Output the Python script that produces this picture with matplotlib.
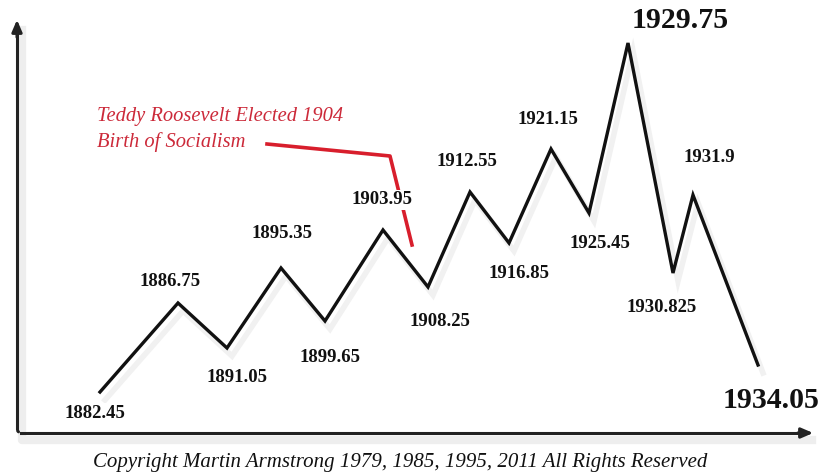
#!/usr/bin/env python3

import matplotlib.pyplot as plt
from matplotlib.patches import FancyArrowPatch

# Turning points of the schematic wave (years) and their place on the sketch
years = ["1882.45", "1886.75", "1891.05", "1895.35", "1899.65", "1903.95",
         "1908.25", "1912.55", "1916.85", "1921.15", "1925.45", "1929.75",
         "1930.825", "1931.9", "1934.05"]
x_pos = [100, 178, 227, 281, 325, 383, 428, 470, 509, 551, 589, 628, 673, 693, 758]
level = [392, 303, 348, 268, 321, 230, 287, 192, 243, 149, 213, 43, 273, 195, 365]

note_lines = ["Teddy Roosevelt Elected 1904", "Birth of Socialism"]
copyright_txt = "Copyright Martin Armstrong 1979, 1985, 1995, 2011 All Rights Reserved"

# label placement (pixels, relative to each turning point)
label_dx = [-5, -8, 10, 1, 5, -1, 12, -3, 10, -3, 11, 52, -11, 16, 13]
label_dy = [21, -22, 30, -34, 36, -30, 34, -30, 30, -29, 30, -22, 34, -38, 35]
big = {"1929.75", "1934.05"}

SERIF = ["Liberation Serif", "DejaVu Serif"]


def main():
    fig = plt.figure(figsize=(8.23, 4.76), dpi=100)
    ax = fig.add_axes([0, 0, 1, 1])
    ax.set_xlim(0, 823)
    ax.set_ylim(476, 0)
    ax.axis("off")

    # faint drop shadows
    ax.plot([x + 5 for x in x_pos], [y + 8 for y in level], color="#f1f1f1",
            lw=4, solid_joinstyle="miter", zorder=1)
    ax.plot([22, 22, 812], [30, 440, 440], color="#eeeeee", lw=6, zorder=1)

    # axes drawn as arrows
    ax.plot([17, 17], [428, 30], color="#222222", lw=2.2, zorder=2)
    ax.plot([21, 805], [433, 433], color="#222222", lw=2.2, zorder=2)
    corner = FancyArrowPatch((17, 428), (21, 433), connectionstyle="arc3,rad=0.4",
                             arrowstyle="-", color="#222222", lw=2.2, zorder=2)
    ax.add_patch(corner)
    ax.annotate("", xy=(17, 17), xytext=(17, 40),
                arrowprops=dict(arrowstyle="-|>,head_length=0.7,head_width=0.3",
                                color="#222222", lw=2.2), zorder=3)
    ax.annotate("", xy=(816, 433), xytext=(795, 433),
                arrowprops=dict(arrowstyle="-|>,head_length=0.7,head_width=0.3",
                                color="#222222", lw=2.2), zorder=3)

    # the wave
    ax.plot(x_pos, level, color="#111111", lw=2.4, solid_joinstyle="miter", zorder=4)

    # red pointer from the note to the 1903.95 top
    ax.plot([267, 390, 412], [144, 156, 245], color="#d81e2c", lw=2.6, zorder=3)

    for i, yr in enumerate(years):
        size = 21.5 if yr in big else 13.5
        ax.text(x_pos[i] + label_dx[i], level[i] + label_dy[i], yr,
                ha="center", va="center", fontsize=size, fontweight="bold",
                family=SERIF, color="#111111", zorder=5,
                bbox=dict(boxstyle="square,pad=0.1", fc="white", ec="none"))

    for j, line in enumerate(note_lines):
        ax.text(97, 117 + j * 25, line, ha="left", va="center", fontsize=14.8,
                style="italic", family=SERIF, color="#cc2a3a", zorder=5)

    ax.text(400, 463, copyright_txt, ha="center", va="center", fontsize=15,
            style="italic", family=SERIF, color="#111111")

    plt.savefig("out.png", dpi=100)


if __name__ == "__main__":
    main()
